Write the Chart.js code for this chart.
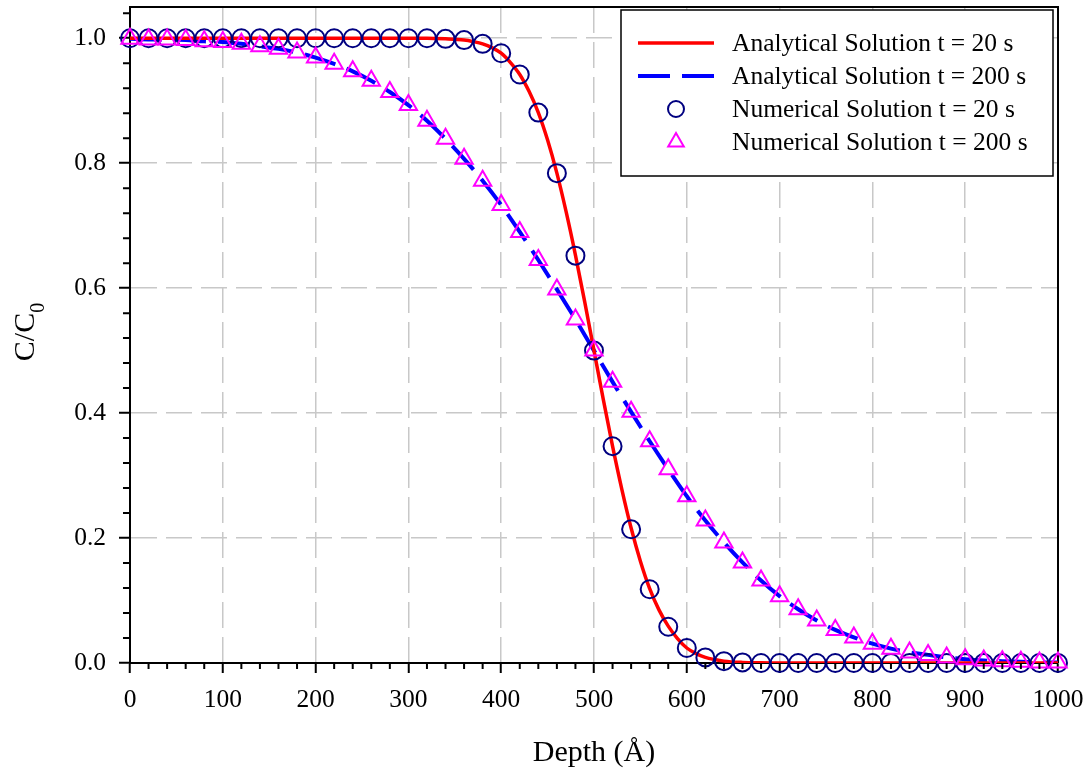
<!DOCTYPE html>
<html>
<head>
<meta charset="utf-8">
<script src="https://cdn.jsdelivr.net/npm/chart.js@4"></script>
<style>
  html, body { margin: 0; padding: 0; background: #fff; }
  #wrap { width: 1089px; height: 776px; }
</style>
</head>
<body>
<div id="wrap"><canvas id="myChart" width="1089" height="776"></canvas></div>
<script>
// depth (Angstrom) of the numerical points
const depth = [0, 20, 40, 60, 80, 100, 120, 140, 160, 180,
  200, 220, 240, 260, 280, 300, 320, 340, 360, 380,
  400, 420, 440, 460, 480, 500, 520, 540, 560, 580,
  600, 620, 640, 660, 680, 700, 720, 740, 760, 780,
  800, 820, 840, 860, 880, 900, 920, 940, 960, 980, 1000];

const numT20 = [1.000, 1.000, 1.000, 1.000, 1.000, 1.000, 1.000, 1.000, 1.000, 1.000,
  1.000, 1.000, 1.000, 1.000, 1.000, 1.000, 1.000, 0.999, 0.997, 0.991,
  0.976, 0.942, 0.881, 0.784, 0.652, 0.500, 0.347, 0.214, 0.118, 0.058,
  0.024, 0.009, 0.003, 0.001, 0.000, 0.000, 0.000, 0.000, 0.000, 0.000,
  0.000, 0.000, 0.000, 0.000, 0.000, 0.000, 0.000, 0.000, 0.000, 0.000, 0.000];

const numT200 = [0.999, 0.998, 0.998, 0.997, 0.995, 0.994, 0.991, 0.987, 0.983, 0.977,
  0.969, 0.959, 0.947, 0.932, 0.914, 0.893, 0.868, 0.839, 0.807, 0.772,
  0.733, 0.690, 0.645, 0.598, 0.550, 0.500, 0.450, 0.402, 0.355, 0.310,
  0.267, 0.228, 0.193, 0.161, 0.132, 0.107, 0.086, 0.068, 0.053, 0.041,
  0.031, 0.023, 0.017, 0.013, 0.009, 0.006, 0.004, 0.003, 0.002, 0.001, 0.001];

// analytical curves
const anaDepth20 = [0, 100, 200, 300, 320, 340, 360, 370, 380, 390,
  400, 410, 420, 430, 440, 450, 460, 470, 480, 490,
  500, 510, 520, 530, 540, 550, 560, 570, 580, 590,
  600, 610, 620, 630, 640, 660, 680, 700, 800, 900, 1000];
const anaT20 = [1.000, 1.000, 1.000, 1.000, 1.000, 0.999, 0.997, 0.9945, 0.991, 0.985,
  0.976, 0.961, 0.942, 0.915, 0.881, 0.837, 0.784, 0.722, 0.653, 0.578,
  0.500, 0.422, 0.347, 0.278, 0.216, 0.163, 0.119, 0.085, 0.059, 0.039,
  0.024, 0.015, 0.009, 0.0055, 0.003, 0.001, 0.0003, 0.000, 0.000, 0.000, 0.000];

const anaDepth200 = depth;
const anaT200 = [0.999, 0.998, 0.998, 0.997, 0.995, 0.994, 0.991, 0.987, 0.983, 0.977,
  0.969, 0.959, 0.947, 0.932, 0.914, 0.893, 0.868, 0.839, 0.807, 0.772,
  0.733, 0.690, 0.645, 0.598, 0.550, 0.500, 0.450, 0.402, 0.355, 0.310,
  0.267, 0.228, 0.193, 0.161, 0.132, 0.107, 0.086, 0.068, 0.053, 0.041,
  0.031, 0.023, 0.017, 0.013, 0.009, 0.006, 0.004, 0.003, 0.002, 0.001, 0.001];

const seriesNames = ["Analytical Solution t = 20 s", "Analytical Solution t = 200 s",
  "Numerical Solution t = 20 s", "Numerical Solution t = 200 s"];

const xTicks = [0, 100, 200, 300, 400, 500, 600, 700, 800, 900, 1000];
const yTicks = [0.0, 0.2, 0.4, 0.6, 0.8, 1.0];

const FONT = "'Liberation Serif', 'Times New Roman', serif";

function pairs(xs, ys) {
  return xs.map((x, i) => ({ x: x, y: ys[i] }));
}

function noPad(s) {
  s.paddingTop = 0; s.paddingBottom = 0; s.paddingLeft = 0; s.paddingRight = 0;
}

// minor ticks, top/right frame, axis titles, legend
const extras = {
  id: 'extras',
  afterLayout(chart) {
    // pin the plot top like the original figure
    const top = 7;
    const a = chart.chartArea, y = chart.scales.y;
    a.top = top;
    a.height = a.bottom - top;
    y.top = top;
    y.height = y.bottom - top;
    y.configure();
  },
  beforeDatasetsDraw(chart) {
    const ctx = chart.ctx;
    const a = chart.chartArea;
    ctx.save();
    ctx.strokeStyle = '#000';
    ctx.lineWidth = 2;
    ctx.beginPath();
    ctx.moveTo(a.left, a.top);
    ctx.lineTo(a.right, a.top);
    ctx.lineTo(a.right, a.bottom);
    ctx.stroke();
    ctx.restore();
  },
  afterDraw(chart) {
    const ctx = chart.ctx;
    const a = chart.chartArea;
    const xs = chart.scales.x, ys = chart.scales.y;
    ctx.save();
    // minor ticks
    ctx.strokeStyle = '#000';
    ctx.lineWidth = 2;
    ctx.beginPath();
    for (let v = 20; v < 1000; v += 20) {
      if (v % 100 === 0) continue;
      const px = xs.getPixelForValue(v);
      ctx.moveTo(px, a.bottom);
      ctx.lineTo(px, a.bottom + 6);
    }
    for (let k = 1; k <= 26; k++) {
      if (k % 5 === 0) continue;
      const py = ys.getPixelForValue(k * 0.04);
      if (py < a.top) break;
      ctx.moveTo(a.left, py);
      ctx.lineTo(a.left - 7, py);
    }
    ctx.stroke();

    // axis titles
    ctx.fillStyle = '#000';
    ctx.font = '30px ' + FONT;
    ctx.textAlign = 'center';
    ctx.textBaseline = 'alphabetic';
    ctx.fillText('Depth (\u00C5)', (a.left + a.right) / 2, 761);

    ctx.save();
    ctx.translate(34, 332);
    ctx.rotate(-Math.PI / 2);
    ctx.font = '30px ' + FONT;
    const main = 'C/C';
    const wMain = ctx.measureText(main).width;
    ctx.font = '20px ' + FONT;
    const wSub = ctx.measureText('0').width;
    const start = -(wMain + wSub) / 2;
    ctx.textAlign = 'left';
    ctx.font = '30px ' + FONT;
    ctx.fillText(main, start, 0);
    ctx.font = '20px ' + FONT;
    ctx.fillText('0', start + wMain, 10);
    ctx.restore();

    // legend
    const bx = 621, by = 10, bw = 432, bh = 166;
    ctx.fillStyle = '#fff';
    ctx.fillRect(bx, by, bw, bh);
    ctx.strokeStyle = '#000';
    ctx.lineWidth = 1.5;
    ctx.strokeRect(bx, by, bw, bh);
    const rows = [43, 76, 109, 142];
    const sets = chart.data.datasets;
    ctx.textAlign = 'left';
    ctx.textBaseline = 'middle';
    for (let i = 0; i < 4; i++) {
      const ds = sets.find(d => d.label === seriesNames[i]);
      const y = rows[i];
      if (ds.pointRadius === 0) {
        ctx.save();
        ctx.strokeStyle = ds.borderColor;
        ctx.lineWidth = ds.borderWidth;
        ctx.setLineDash(ds.borderDash || []);
        ctx.beginPath();
        ctx.moveTo(638, y);
        ctx.lineTo(714, y);
        ctx.stroke();
        ctx.restore();
      } else {
        ctx.save();
        ctx.fillStyle = 'rgba(0,0,0,0)';
        ctx.strokeStyle = ds.pointBorderColor;
        ctx.lineWidth = ds.pointBorderWidth;
        Chart.helpers.drawPoint(ctx, {
          pointStyle: ds.pointStyle,
          radius: ds.pointStyle === 'triangle' ? 9 : 8,
          borderWidth: ds.pointBorderWidth,
          rotation: 0
        }, 676, y);
        ctx.restore();
      }
      ctx.fillStyle = '#000';
      ctx.font = '25.5px ' + FONT;
      ctx.fillText(seriesNames[i], 732, y + 1);
    }
    ctx.restore();
  }
};

new Chart("myChart", {
  type: "line",
  data: {
    datasets: [
      {
        label: seriesNames[3],
        data: pairs(depth, numT200),
        showLine: false,
        pointStyle: 'triangle',
        pointRadius: 10,
        pointBorderColor: '#FF00FF',
        pointBackgroundColor: 'rgba(0,0,0,0)',
        pointBorderWidth: 2,
        clip: false,
        order: 0
      },
      {
        label: seriesNames[2],
        data: pairs(depth, numT20),
        showLine: false,
        pointStyle: 'circle',
        pointRadius: 9,
        pointBorderColor: '#000080',
        pointBackgroundColor: 'rgba(0,0,0,0)',
        pointBorderWidth: 2,
        clip: false,
        order: 1
      },
      {
        label: seriesNames[0],
        data: pairs(anaDepth20, anaT20),
        borderColor: '#FF0000',
        borderWidth: 3.5,
        pointRadius: 0,
        cubicInterpolationMode: 'monotone',
        fill: false,
        order: 2
      },
      {
        label: seriesNames[1],
        data: pairs(anaDepth200, anaT200),
        borderColor: '#0000FF',
        borderWidth: 4,
        borderDash: [32, 12],
        pointRadius: 0,
        cubicInterpolationMode: 'monotone',
        fill: false,
        order: 3
      }
    ]
  },
  options: {
    responsive: false,
    animation: false,
    events: [],
    layout: { padding: { left: 0, right: 31, top: 7, bottom: 0 } },
    plugins: {
      legend: { display: false },
      tooltip: { enabled: false }
    },
    scales: {
      x: {
        type: 'linear',
        min: 0,
        max: 1000,
        afterFit: s => { s.height = 113; noPad(s); },
        afterBuildTicks: s => { s.ticks = xTicks.map(v => ({ value: v })); },
        ticks: {
          font: { family: FONT, size: 25.5 },
          color: '#000',
          padding: 12,
          maxRotation: 0,
          callback: v => String(v)
        },
        grid: {
          color: '#c8c8c8',
          lineWidth: 1.5,
          tickColor: '#000',
          tickWidth: 2,
          tickLength: 10
        },
        border: { display: true, color: '#000', width: 2, dash: [26, 9] }
      },
      y: {
        type: 'linear',
        min: 0,
        max: 1.05,
        afterFit: s => { s.width = 130; noPad(s); },
        afterBuildTicks: s => { s.ticks = yTicks.map(v => ({ value: v })); },
        ticks: {
          font: { family: FONT, size: 25.5 },
          color: '#000',
          padding: 13,
          callback: v => Number(v).toFixed(1)
        },
        grid: {
          color: '#c8c8c8',
          lineWidth: 1.5,
          tickColor: '#000',
          tickWidth: 2,
          tickLength: 11
        },
        border: { display: true, color: '#000', width: 2, dash: [26, 9] }
      }
    }
  },
  plugins: [extras]
});
</script>
</body>
</html>
